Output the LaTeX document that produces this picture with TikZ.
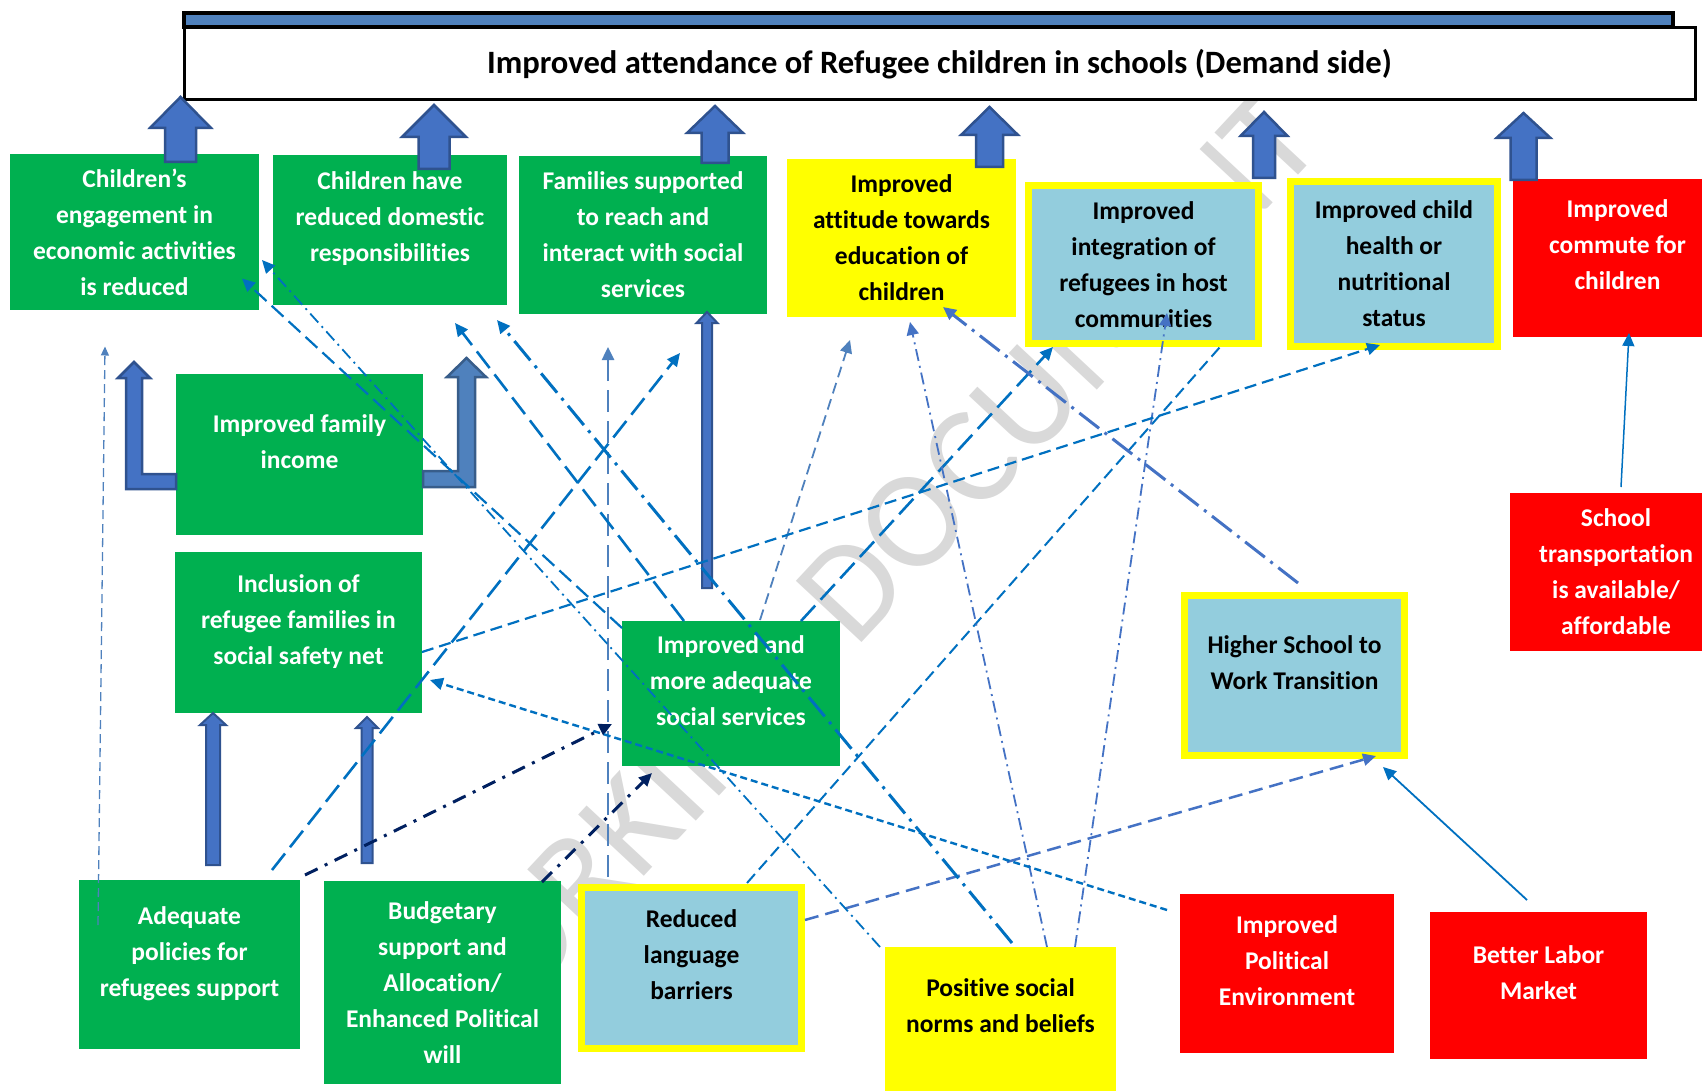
\documentclass[tikz,border=0pt]{standalone}
\usepackage{fontspec}
\setmainfont{Carlito}[Ligatures=NoCommon]
\usetikzlibrary{arrows.meta,calc}

\definecolor{boxgreen}{HTML}{00B050}
\definecolor{boxyellow}{HTML}{FFFF00}
\definecolor{boxaqua}{HTML}{93CDDD}
\definecolor{boxred}{HTML}{FF0000}
\definecolor{arrfill}{HTML}{4472C4}
\definecolor{arrline}{HTML}{2F528F}
\definecolor{arrfillb}{HTML}{4F81BD}
\definecolor{arrlineb}{HTML}{385D8A}
\definecolor{lnblue}{HTML}{0070C0}
\definecolor{lnmid}{HTML}{4472C4}
\definecolor{lnpale}{HTML}{4F81BD}
\definecolor{lnnavy}{HTML}{002060}
\definecolor{wmgray}{HTML}{D9D9D9}

\tikzset{
  box/.style={rectangle,inner sep=0pt,outer sep=0pt,align=center,
    font=\fontsize{25.5}{36}\selectfont\bfseries},
  greenbox/.style={box,fill=boxgreen,text=white},
  yellowbox/.style={box,fill=boxyellow,text=black},
  aquabox/.style={box,fill=boxaqua,draw=boxyellow,line width=7pt,text=black},
  redbox/.style={box,fill=boxred,text=white},
  tcen/.style={text depth=0pt},
  tup/.style={text depth=26pt},
  blockA/.style={fill=arrfill,draw=arrline,line width=2.5pt},
  blockB/.style={fill=arrfillb,draw=arrlineb,line width=2.5pt},
  longdash/.style={draw=lnblue,line width=2.6pt,dash pattern=on 21pt off 8pt},
  middash/.style={draw=lnblue,line width=2.2pt,dash pattern=on 12pt off 6pt},
  shortdash/.style={draw=lnblue,line width=2.4pt,dash pattern=on 7pt off 4pt},
  longdot/.style={line width=3pt,dash pattern=on 25pt off 7pt on 3pt off 7pt},
  thindot/.style={line width=1.8pt,dash pattern=on 12pt off 5pt on 2pt off 5pt},
  navydot/.style={draw=lnnavy,line width=3pt,dash pattern=on 14pt off 8pt on 3pt off 8pt},
}

\begin{document}
\begin{tikzpicture}[x=1pt,y=-1pt,>={Triangle[length=13pt,width=12pt]}]
  \useasboundingbox (0,0) rectangle (1702,1091);

  % watermark
  \node[rotate=47,text=wmgray,font=\fontsize{140}{140}\selectfont] (wmark) at (850,590) {WORKING DOCUMENT};

  % goal
  \draw[line width=3.5pt,fill=arrfillb] (184,13) rectangle (1673,27);
  \node[draw=black,line width=3pt,fill=white,minimum width=1511pt,minimum height=72pt,inner sep=0pt,
    font=\fontsize{32.6}{38}\selectfont\bfseries] (goal) at (939.5,64)
    {Improved attendance of Refugee children in schools (Demand side)};

  % outcome row
  \node[greenbox,tcen,minimum width=249pt,minimum height=155pt] (chEng) at (134.5,232)
    {Children’s\\engagement in\\economic activities\\is reduced};
  \node[greenbox,tup,minimum width=234pt,minimum height=150pt] (chDom) at (390,230)
    {Children have\\reduced domestic\\responsibilities};
  \node[greenbox,tcen,minimum width=248pt,minimum height=158pt] (famSup) at (643,235)
    {Families supported\\to reach and\\interact with social\\services};
  \node[yellowbox,tcen,minimum width=229pt,minimum height=158pt] (attit) at (901.5,238)
    {Improved\\attitude towards\\education of\\children};
  \node[aquabox,tcen,minimum width=230pt,minimum height=158pt] (integ) at (1143.5,264.5)
    {Improved\\integration of\\refugees in host\\communities};
  \node[aquabox,tcen,minimum width=207pt,minimum height=165pt] (health) at (1394,264)
    {Improved child\\health or\\nutritional\\status};
  \node[redbox,tup,minimum width=209pt,minimum height=158pt] (commute) at (1617.5,258)
    {Improved\\commute for\\children};

  % middle
  \node[greenbox,tup,minimum width=247pt,minimum height=161pt] (famInc) at (299.5,454.5)
    {Improved family\\income};
  \node[greenbox,tup,minimum width=247pt,minimum height=161pt] (incl) at (298.5,632.5)
    {Inclusion of\\refugee families in\\social safety net};
  \node[greenbox,tup,minimum width=218pt,minimum height=145pt] (socSer) at (731,693.5)
    {Improved and\\more adequate\\social services};
  \node[aquabox,tup,minimum width=220pt,minimum height=160pt] (higher) at (1294.5,675.5)
    {Higher School to\\Work Transition};
  \node[redbox,tcen,minimum width=212pt,minimum height=158pt] (transp) at (1616,572)
    {School\\transportation\\is available/\\affordable};

  % bottom row
  \node[greenbox,tup,minimum width=221pt,minimum height=169pt] (adeq) at (189.5,964.5)
    {Adequate\\policies for\\refugees support};
  \node[greenbox,tcen,minimum width=237pt,minimum height=203pt] (budget) at (442.5,982.5)
    {Budgetary\\support and\\Allocation/\\Enhanced Political\\will};
  \node[aquabox,tup,minimum width=220pt,minimum height=161pt] (lang) at (691.5,968)
    {Reduced\\language\\barriers};
  \node[yellowbox,tup,minimum width=231pt,minimum height=144pt] (norms) at (1000.5,1019)
    {Positive social\\norms and beliefs};
  \node[redbox,tup,minimum width=214pt,minimum height=159pt] (polit) at (1287,973.5)
    {Improved\\Political\\Environment};
  \node[redbox,tup,minimum width=217pt,minimum height=147pt] (labor) at (1538.5,985.5)
    {Better Labor\\Market};

  % block arrows up to the goal
  \foreach \x/\t/\h/\b/\hw/\sw in {180.5/97/128/162/30.5/15.5, 434/105/137/169/32/15.5,
      715/106/133/163/28/13.5, 989.5/107/135/167/28.5/13.5, 1264/112/136/178/23.5/11,
      1523.5/113/138/180/27/13}
    \draw[blockA] (\x-\sw,\b) -- (\x-\sw,\h) -- (\x-\hw,\h) -- (\x,\t) -- (\x+\hw,\h)
      -- (\x+\sw,\h) -- (\x+\sw,\b) -- cycle;

  % small block arrows
  \foreach \x/\t/\h/\b/\hw/\sw in {213/713/725/865/13/7, 367/717/728/863/11/5.5, 707/312/323/588/10.5/5}
    \draw[blockA,line width=2pt] (\x-\sw,\b) -- (\x-\sw,\h) -- (\x-\hw,\h) -- (\x,\t) -- (\x+\hw,\h)
      -- (\x+\sw,\h) -- (\x+\sw,\b) -- cycle;

  % bent arrows from family income
  \draw[blockA] (176,489) -- (126,489) -- (126,378) -- (118,378) -- (134,362) -- (150,378)
    -- (142,378) -- (142,474) -- (176,474) -- cycle;
  \draw[blockB] (423,471) -- (458,471) -- (458,377) -- (447,377) -- (466.5,358) -- (486,377)
    -- (475,377) -- (475,487) -- (423,487) -- cycle;

  % connectors
  \draw[draw=lnpale,line width=1.3pt,dash pattern=on 9pt off 5pt,-{Triangle[length=9pt,width=8pt]}]
    ($(adeq.north west)+(19,45)$) -- ($(chEng.south)+(-29.5,37)$);
  \draw[longdash,->] ($(adeq.north east)+(-28,-10)$) -- ($(famSup.south)+(37,39)$);
  \draw[navydot,->] ($(adeq.north east)+(5,-5)$) -- ($(socSer.west)+(-10,30.5)$);
  \draw[navydot,->] ($(budget.north east)+(-19,1)$) -- ($(socSer.south west)+(30,7)$);
  \draw[draw=lnpale,line width=2.5pt,dash pattern=on 22pt off 9pt,->]
    ($(lang.north west)+(26.5,-10.5)$) -- ($(famSup.south west)+(89,33)$);
  \draw[draw=lnmid,line width=2.5pt,dash pattern=on 14pt off 7pt,->]
    ($(lang.east)+(3.5,-48)$) -- ($(higher.south)+(81.5,0.5)$);
  \draw[middash,line width=2pt] ($(lang.north)+(55.5,-4.5)$) -- ($(integ.south)+(76.5,3.5)$);
  \draw[draw=lnpale,line width=1.8pt,dash pattern=on 11pt off 6pt,->]
    ($(socSer.north)+(29,-1)$) -- ($(attit.south west)+(63,23)$);
  \draw[longdash,->] ($(socSer.north)+(70,0)$) -- ($(integ.south west)+(24.5,3.5)$);
  \draw[longdash,->] ($(socSer.north)+(-47,0)$) -- ($(chDom.south)+(65,18)$);
  \draw[longdot,draw=lnblue,->] ($(norms.north)+(11.5,-4)$) -- ($(chDom.south east)+(-10,15)$);
  \draw[thindot,draw=lnblue,->] ($(norms.north west)+(-5,0)$) -- ($(chEng.east)+(3,28)$);
  \draw[longdash,line width=2.2pt,dash pattern=on 16pt off 7pt,->]
    ($(socSer.north west)+(0,7)$) -- ($(chEng.south east)+(-17,-31)$);
  \draw[thindot,draw=lnmid,->] ($(norms.north)+(46.5,0)$) -- ($(attit.south)+(8.5,5)$);
  \draw[thindot,draw=lnmid,->] ($(norms.north)+(74.5,0)$) -- ($(integ.south)+(23.5,-30.5)$);
  \draw[longdot,draw=lnmid,->] ($(higher.north)+(3.5,-12.5)$) -- ($(attit.south)+(41.5,-10)$);
  \draw[middash,->] ($(incl.east)+(0,19.5)$) -- ($(health.south)+(-14,-1.5)$);
  \draw[shortdash,->] ($(polit.north west)+(-13,16)$) -- ($(incl.east)+(8,47.5)$);
  \draw[draw=lnblue,line width=1.8pt,->] ($(labor.north)+(-11.5,-12)$) -- ($(higher.south)+(88.5,11.5)$);
  \draw[draw=lnblue,line width=1.5pt,->] ($(transp.north)+(5,-6)$) -- ($(commute.south)+(11.5,-4)$);
\end{tikzpicture}
\end{document}
